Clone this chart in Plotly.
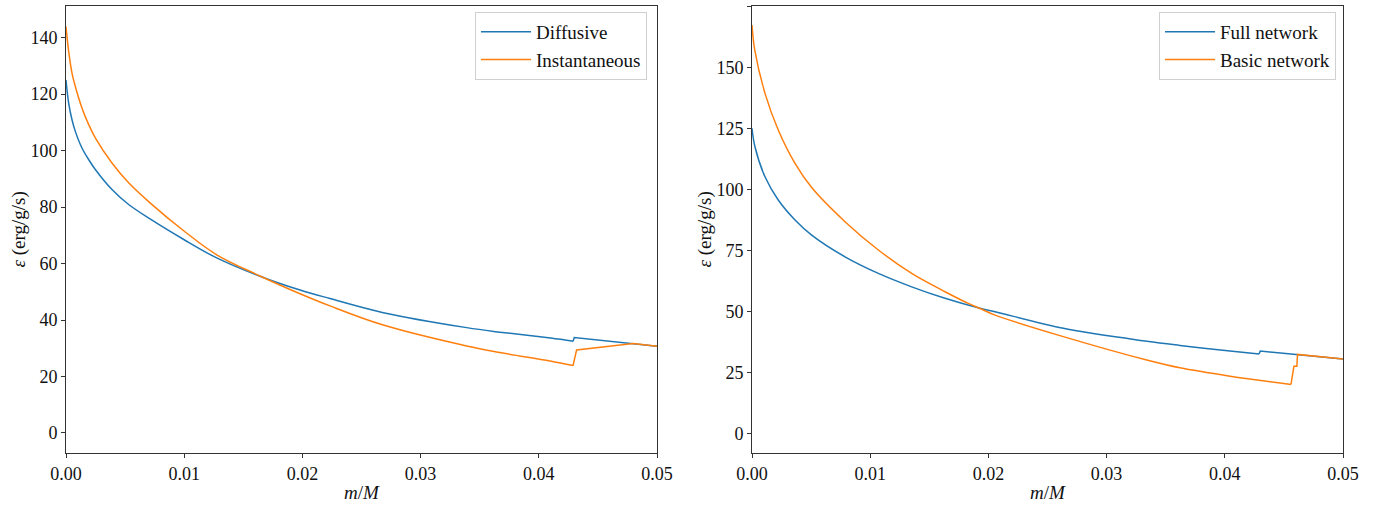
import plotly.graph_objects as go

# ---- Left panel data ----
left_diff_m = [0, 0.000226, 0.000508, 0.000789, 0.00135, 0.00192, 0.00248, 0.00389, 0.0053,
               0.00711, 0.00993, 0.01275, 0.01641, 0.0198, 0.02233, 0.02685, 0.0339, 0.0367,
               0.0410, 0.0429, 0.0430, 0.05]
left_diff_v = [125, 116.8, 110.9, 106.8, 100.9, 96.8, 93.3, 86.2, 80.9,
               75.8, 68.6, 62.0, 55.5, 50.6, 47.6, 42.6, 37.3, 35.7,
               33.6, 32.5, 33.8, 30.7]

left_inst_m = [0, 0.000226, 0.000508, 0.000789, 0.00135, 0.00192, 0.00248, 0.00389, 0.0053,
               0.00711, 0.00993, 0.01275, 0.01641, 0.0198, 0.02233, 0.02685, 0.0339, 0.0367,
               0.04095, 0.0429, 0.0432, 0.048, 0.05]
left_inst_v = [143.9, 135.1, 127.4, 122.7, 115.1, 109.2, 104.5, 95.6, 88.6,
               81.5, 71.7, 63.1, 55.6, 49.3, 45.0, 38.2, 30.8, 28.5,
               25.5, 23.9, 29.4, 31.7, 30.7]

# ---- Right panel data ----
right_full_m = [0, 0.00025, 0.0011, 0.00222, 0.00364, 0.00505, 0.00787, 0.01069, 0.01351,
                0.01633, 0.01929, 0.02056, 0.02634, 0.0334, 0.0362, 0.04044, 0.0429, 0.0430, 0.05]
right_full_v = [125.2, 117.6, 105.3, 95.8, 87.6, 81.4, 72.5, 65.7, 60.2,
                55.5, 51.4, 50.0, 43.2, 37.9, 36.2, 33.9, 32.7, 33.9, 30.6]

right_basic_m = [0, 0.00023, 0.0011, 0.00222, 0.00364, 0.00505, 0.00787, 0.01069, 0.01351,
                 0.01633, 0.0183, 0.01929, 0.02056, 0.02634, 0.0334, 0.0362, 0.04044, 0.0456,
                 0.04585, 0.0461, 0.04615, 0.05]
right_basic_v = [167.5, 157.3, 139.5, 124.5, 110.8, 100.9, 86.9, 75.3, 65.7,
                 58.2, 53.4, 51.3, 48.6, 39.8, 30.2, 27.0, 23.6, 20.2,
                 27.7, 27.7, 32.5, 30.6]

# number of points in the smooth part of each series (the step/jump follows)
left_diff_break = 20
left_inst_break = 20
right_full_break = 17
right_basic_break = 18

x_ticks = [0.0, 0.01, 0.02, 0.03, 0.04, 0.05]
x_ticklabels = ["0.00", "0.01", "0.02", "0.03", "0.04", "0.05"]
left_yticks = [0, 20, 40, 60, 80, 100, 120, 140]
right_yticks = [0, 25, 50, 75, 100, 125, 150, 175]
x_title = "<i>m</i>/<i>M</i>"
y_title = "<i>ε</i> (erg/g/s)"

BLUE = "#1f77b4"
ORANGE = "#ff7f0e"
FONT = "Liberation Serif"

fig = go.Figure()


def add_series(m, v, brk, name, color, xa, ya, leg, grp):
    fig.add_trace(go.Scatter(x=m[:brk], y=v[:brk], mode="lines", name=name,
                             line=dict(color=color, width=1.5, shape="spline", smoothing=1.0),
                             xaxis=xa, yaxis=ya, legend=leg, legendgroup=grp))
    fig.add_trace(go.Scatter(x=m[brk - 1:], y=v[brk - 1:], mode="lines", name=name,
                             line=dict(color=color, width=1.5),
                             xaxis=xa, yaxis=ya, legend=leg, legendgroup=grp,
                             showlegend=False))


add_series(left_diff_m, left_diff_v, left_diff_break, "Diffusive", BLUE, "x", "y", "legend", "a")
add_series(left_inst_m, left_inst_v, left_inst_break, "Instantaneous", ORANGE, "x", "y", "legend", "b")
add_series(right_full_m, right_full_v, right_full_break, "Full network", BLUE, "x2", "y2", "legend2", "c")
add_series(right_basic_m, right_basic_v, right_basic_break, "Basic network", ORANGE, "x2", "y2", "legend2", "d")

W, H = 1384, 506
ydom = [1 - 453 / H, 1 - 6 / H]
ymid = (ydom[0] + ydom[1]) / 2
left_dom = [66 / W, 657 / W]
right_dom = [752 / W, 1343 / W]

axis_common = dict(showgrid=False, zeroline=False, showline=True, mirror=True,
                   linecolor="#333", linewidth=1, ticks="outside", ticklen=4,
                   tickcolor="#333", tickwidth=1, automargin=False,
                   tickfont=dict(family=FONT, size=18, color="#111"))

title_font = dict(family=FONT, size=19, color="#111")
legend_font = dict(family=FONT, size=19, color="#111")

annotations = []
for dom in (left_dom, right_dom):
    annotations.append(dict(text=x_title, xref="paper", yref="paper",
                            x=(dom[0] + dom[1]) / 2, y=1 - 492 / H,
                            xanchor="center", yanchor="middle", showarrow=False,
                            font=title_font))
    annotations.append(dict(text=y_title, xref="paper", yref="paper",
                            x=dom[0] - 48 / W, y=ymid, textangle=-90,
                            xanchor="center", yanchor="middle", showarrow=False,
                            font=title_font))

fig.update_layout(
    width=W, height=H,
    margin=dict(l=0, r=0, t=0, b=0),
    paper_bgcolor="white", plot_bgcolor="white",
    xaxis=dict(domain=left_dom, range=[0, 0.05], anchor="y",
               tickvals=x_ticks, ticktext=x_ticklabels, **axis_common),
    yaxis=dict(domain=ydom, range=[-7.1, 151.2], anchor="x",
               tickvals=left_yticks, **axis_common),
    xaxis2=dict(domain=right_dom, range=[0, 0.05], anchor="y2",
                tickvals=x_ticks, ticktext=x_ticklabels, **axis_common),
    yaxis2=dict(domain=ydom, range=[-7.9, 175.3], anchor="x2",
                tickvals=right_yticks, **axis_common),
    annotations=annotations,
    legend=dict(x=647 / W, y=1 - 12 / H, xanchor="right", yanchor="top",
                bgcolor="white", bordercolor="#d0d0d0", borderwidth=1,
                font=legend_font, tracegroupgap=0, itemwidth=50),
    legend2=dict(x=1336 / W, y=1 - 12 / H, xanchor="right", yanchor="top",
                 bgcolor="white", bordercolor="#d0d0d0", borderwidth=1,
                 font=legend_font, tracegroupgap=0, itemwidth=50),
    showlegend=True,
)

fig.write_html("out.html", config={"displayModeBar": False},
               post_script="document.body.style.margin='0px';")
